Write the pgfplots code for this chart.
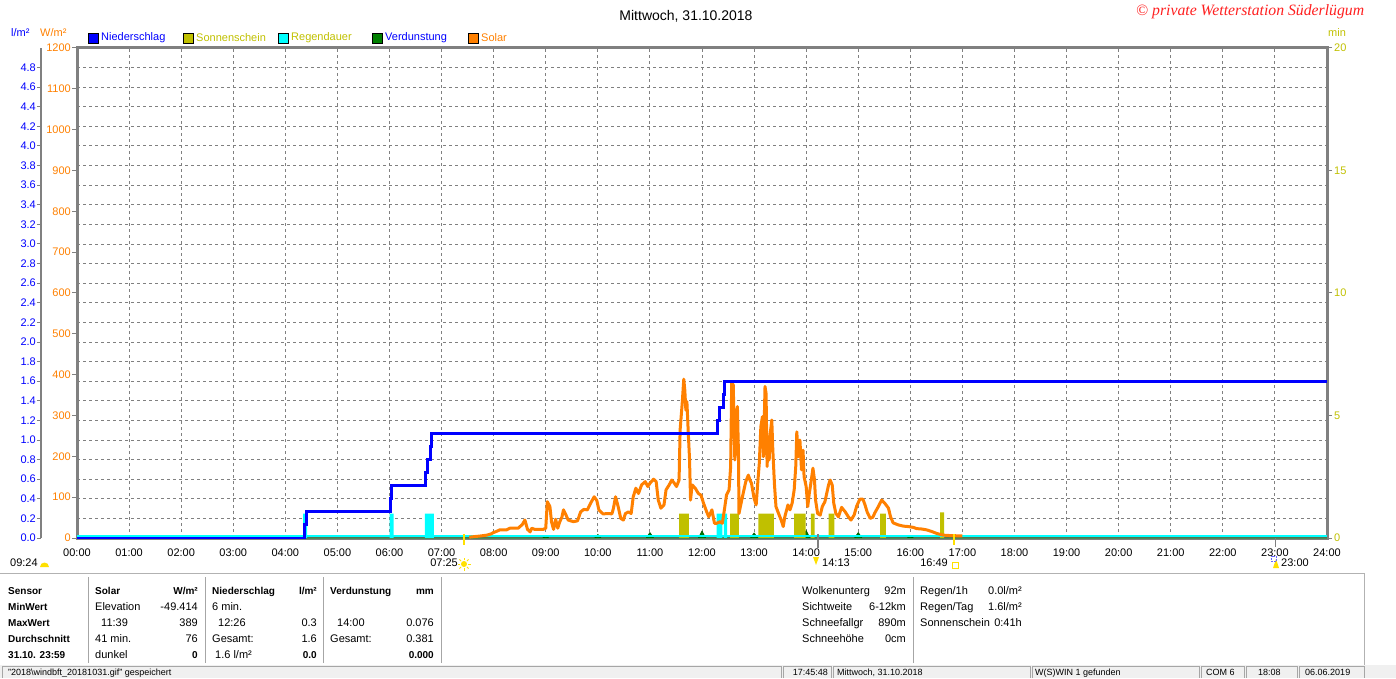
\documentclass[border=0pt]{standalone}
\usepackage{fontspec}
\setmainfont{Liberation Sans}
\newfontfamily\cfont{Liberation Serif}
\usepackage{graphicx}
\usepackage{pgfplots}
\pgfplotsset{compat=1.18}
\definecolor{cBlue}{HTML}{0000FF}
\definecolor{cOrange}{HTML}{FF8000}
\definecolor{cOlive}{HTML}{C0C000}
\definecolor{cCyan}{HTML}{00FFFF}
\definecolor{cGreen}{HTML}{008000}
\definecolor{cGrid}{HTML}{808080}
\definecolor{cFrame}{HTML}{808080}
\definecolor{cRed}{HTML}{FF2020}
\definecolor{cYel}{HTML}{FFE000}
\pgfplotsset{
  /pgf/number format/assume math mode=true,
  /pgf/number format/1000 sep={},
  base/.style={at={(77pt,140pt)}, anchor=south west, width=1250pt, height=490pt,
    scale only axis, xmin=0, xmax=24},
  every tick label/.append style={font=\fontsize{11}{13}\selectfont},
}
\begin{document}
\begin{tikzpicture}[x=1pt,y=1pt,font=\fontsize{11}{13}\selectfont]
\useasboundingbox (0,0) rectangle (1396,678);
% ---------- grid + x labels
\begin{axis}[base, ymin=0, ymax=5,
  xtick={0,1,2,3,4,5,6,7,8,9,10,11,12,13,14,15,16,17,18,19,20,21,22,23,24},
  xticklabels={00:00,01:00,02:00,03:00,04:00,05:00,06:00,07:00,08:00,09:00,10:00,11:00,12:00,13:00,14:00,15:00,16:00,17:00,18:00,19:00,20:00,21:00,22:00,23:00,24:00},
  ytick={0,0.2,0.4,0.6,0.8,1.0,1.2,1.4,1.6,1.8,2.0,2.2,2.4,2.6,2.8,3.0,3.2,3.4,3.6,3.8,4.0,4.2,4.4,4.6,4.8,5.0},
  yticklabels={},
  grid=major, major grid style={cGrid, line width=1pt, dash pattern=on 3pt off 3pt},
  axis line style={draw=none}, tick style={draw=none},
  xticklabel style={yshift=-7pt, black}]
\addplot[draw=none] coordinates {(0,0)};
\end{axis}
% ---------- frame
\draw[cFrame, line width=3pt] (77,140) rectangle (1327,630);
% ---------- Verdunstung (mm)
\begin{axis}[base, ymin=0, ymax=5, hide axis]
\addplot[fill=cGreen, draw=cGreen!70!black, line width=0.8pt] coordinates {
(0,0)(8.94,0)(9,0.020)(9.06,0)(9.94,0)(10,0.035)(10.06,0)(10.93,0)(11,0.055)(11.07,0)
(11.93,0)(12,0.070)(12.07,0)(12.93,0)(13,0.050)(13.07,0)(13.93,0)(14,0.076)(14.07,0)
(14.93,0)(15,0.055)(15.07,0)(15.94,0)(16,0.020)(16.06,0)(24,0)} \closedcycle;
\end{axis}
% ---------- Sonnenschein / Regendauer (min)
\begin{axis}[base, ymin=0, ymax=20, axis x line=none, axis y line*=right,
  y axis line style={draw=none}, ytick={0,5,10,15,20},
  yticklabel style={cOlive, inner sep=2pt},
  tick style={cFrame, line width=1pt}, major tick length=5pt, tick align=outside]
\addplot[fill=cOlive, draw=none] coordinates {
(0,0)(11.56,0)(11.56,1)(11.75,1)(11.75,0)(12.54,0)(12.54,1)(12.71,1)(12.71,0)
(13.08,0)(13.08,1)(13.38,1)(13.38,0)(13.77,0)(13.77,1)(13.99,1)(13.99,0)
(14.09,0)(14.09,1)(14.16,1)(14.16,0)(14.43,0)(14.43,1)(14.54,1)(14.54,0)
(15.42,0)(15.42,1)(15.53,1)(15.53,0)(16.57,0)(16.57,1.05)(16.65,1.05)(16.65,0)(24,0)} \closedcycle;
\addplot[fill=cCyan, draw=none] coordinates {
(0,0)(4.34,0)(4.34,1)(4.42,1)(4.42,0)(6.00,0)(6.00,1)(6.08,1)(6.08,0)
(6.68,0)(6.68,1)(6.85,1)(6.85,0)(12.28,0)(12.28,1)(12.39,1)(12.39,0)
(12.42,0)(12.42,1)(12.48,1)(12.48,0)(24,0)} \closedcycle;
\addplot[cCyan, line width=2pt] coordinates {(0,0.07)(24,0.07)};
\end{axis}
% ---------- Solar (W/m2)
\begin{axis}[base, ymin=0, ymax=1200, axis x line=none, axis y line*=left,
  y axis line style={draw=none}, ytick={0,100,200,300,400,500,600,700,800,900,1000,1100,1200},
  yticklabel style={cOrange, inner sep=1pt},
  tick style={cFrame, line width=1pt}, major tick length=5pt, tick align=outside]
\addplot[cOrange, line width=3pt, line join=round] coordinates {
(7.53,2)(7.60,3)(7.75,5)(7.87,7)(7.95,10)(7.99,13)(8.05,16)(8.12,20)(8.25,20)(8.31,24)
(8.47,24)(8.55,33)(8.60,44)(8.65,21)(8.70,15)(8.73,24)(8.79,21)(8.95,21)(9.00,24)(9.03,89)
(9.08,77)(9.11,40)(9.15,21)(9.19,46)(9.23,24)(9.27,40)(9.31,51)(9.34,69)(9.39,56)(9.43,44)
(9.53,40)(9.61,42)(9.67,64)(9.73,70)(9.80,69)(9.86,85)(9.93,101)(9.98,92)(10.02,69)(10.10,59)
(10.20,60)(10.27,59)(10.30,73)(10.34,101)(10.39,77)(10.44,48)(10.49,44)(10.53,60)(10.59,64)(10.64,60)
(10.68,101)(10.73,122)(10.78,109)(10.84,130)(10.91,138)(10.96,126)(11.00,134)(11.07,144)(11.12,138)(11.16,93)
(11.21,73)(11.27,81)(11.31,118)(11.37,130)(11.42,142)(11.47,134)(11.51,126)(11.56,142)(11.58,265)(11.62,330)
(11.65,389)(11.67,362)(11.69,313)(11.71,334)(11.74,248)(11.76,195)(11.78,93)(11.81,130)(11.87,122)(11.93,109)
(11.98,105)(12.03,85)(12.09,64)(12.13,52)(12.19,69)(12.24,36)(12.28,36)(12.35,40)(12.39,36)(12.43,69)
(12.47,105)(12.52,118)(12.55,175)(12.57,379)(12.60,375)(12.63,191)(12.67,313)(12.68,322)(12.70,207)(12.71,60)
(12.75,85)(12.79,109)(12.84,138)(12.89,154)(12.92,142)(12.95,134)(13.00,97)(13.04,81)(13.07,134)(13.10,183)
(13.13,273)(13.16,297)(13.18,199)(13.21,371)(13.23,354)(13.25,175)(13.27,248)(13.29,191)(13.31,256)(13.34,289)
(13.36,215)(13.39,134)(13.42,77)(13.47,60)(13.52,44)(13.56,28)(13.59,52)(13.65,81)(13.69,69)(13.73,85)
(13.77,118)(13.80,175)(13.82,260)(13.85,199)(13.88,240)(13.91,167)(13.94,215)(13.96,150)(14.00,126)(14.03,77)
(14.06,109)(14.09,134)(14.13,171)(14.16,142)(14.18,93)(14.22,60)(14.27,56)(14.31,77)(14.36,89)(14.43,130)
(14.46,142)(14.50,130)(14.53,85)(14.57,60)(14.62,52)(14.68,75)(14.75,64)(14.81,52)(14.86,44)(14.92,56)
(14.97,78)(15.03,95)(15.09,95)(15.13,81)(15.17,64)(15.23,48)(15.28,51)(15.32,62)(15.39,78)(15.45,93)
(15.51,85)(15.58,73)(15.62,52)(15.67,37)(15.77,32)(15.87,29)(15.96,28)(16.06,26)(16.12,23)(16.22,22)
(16.31,20)(16.41,16)(16.51,11)(16.63,7)(16.76,6)(17.00,5)};
\end{axis}
% ---------- Niederschlag (l/m2)
\begin{axis}[base, ymin=0, ymax=5, hide axis]
\addplot[cBlue, line width=3pt] coordinates {
(0,0)(4.36,0)(4.36,0.133)(4.40,0.133)(4.40,0.267)(6.01,0.267)(6.01,0.40)(6.03,0.40)(6.03,0.533)
(6.70,0.533)(6.70,0.667)(6.73,0.667)(6.73,0.80)(6.78,0.80)(6.78,0.933)(6.81,0.933)(6.81,1.067)
(12.30,1.067)(12.30,1.2)(12.33,1.2)(12.33,1.333)(12.41,1.333)(12.41,1.467)(12.44,1.467)(12.44,1.6)(24,1.6)};
\end{axis}
% ---------- outer blue scale
\begin{axis}[at={(41pt,140pt)}, anchor=south west, width=1250pt, height=490pt, scale only axis,
  xmin=0, xmax=24, ymin=0, ymax=5, axis x line=none, axis y line*=left,
  y axis line style={cFrame, line width=2pt},
  ytick={0,0.2,0.4,0.6,0.8,1.0,1.2,1.4,1.6,1.8,2.0,2.2,2.4,2.6,2.8,3.0,3.2,3.4,3.6,3.8,4.0,4.2,4.4,4.6,4.8},
  yticklabel style={cBlue, inner sep=1pt, /pgf/number format/.cd, fixed, fixed zerofill, precision=1},
  tick style={cFrame, line width=1pt}, major tick length=4pt, tick align=outside]
\addplot[draw=none] coordinates {(0,0)};
\end{axis}
% ---------- titles, units, legend
\node[font=\fontsize{14}{16}\selectfont] at (686,662) {Mittwoch, 31.10.2018};
\node[anchor=west, inner sep=0pt, text=cRed] at (1136,666) {\resizebox{228pt}{!}{\cfont\itshape © private Wetterstation Süderlügum}};
\node[anchor=west, inner sep=0pt, text=cBlue] at (11,645) {l/m²};
\node[anchor=west, inner sep=0pt, text=cOrange] at (40,645) {W/m²};
\node[anchor=west, inner sep=0pt, text=cOlive] at (1328,645) {min};
\foreach \xs/\col/\tcol/\txt in {88/cBlue/cBlue/Niederschlag,183/cOlive/cOlive/Sonnenschein,278/cCyan/cOlive/Regendauer,372/cGreen/cBlue/Verdunstung,468/cOrange/cOrange/Solar}{
  \filldraw[fill=\col, draw=black, line width=0.8pt] (\xs,635) rectangle ++(10,10);
  \node[anchor=west, inner sep=0pt, text=\tcol] at (\xs+13,640) {\txt};
}
% ---------- sun / moon markers
\draw[cYel, line width=2pt] (464,144) -- (464,133);
\draw[cYel, line width=2pt] (954,144) -- (954,133);
\draw[cFrame, line width=2pt] (818,144) -- (818,130);
\draw[cFrame, line width=1.5pt] (1275.7,140) -- (1275.7,131);
\node[anchor=west, inner sep=0pt] at (10,115) {09:24};
\fill[cYel] (40,111) arc (180:0:4.5) -- cycle;
\node[anchor=east, inner sep=0pt] at (458,115) {07:25};
\fill[cYel] (464,114) circle (3);
\foreach \a in {0,45,...,315} \draw[cYel, line width=0.8pt] (464,114) ++(\a:4) -- ++(\a:2.5);
\node[anchor=west, inner sep=0pt] at (822,115) {14:13};
\fill[cYel] (813,121) -- (819,121) -- (816,113) -- cycle;
\node[anchor=east, inner sep=0pt] at (948,115) {16:49};
\draw[cYel, line width=1pt] (952,110) rectangle ++(6,6);
\node[anchor=west, inner sep=0pt] at (1281,115) {23:00};
\fill[cYel] (1273,110) -- (1279,110) -- (1276,119) -- cycle;
\draw[blue!60, densely dotted] (1271,117) rectangle ++(5,5);
% ---------- table
\draw[gray!60, line width=1pt] (0,105) -- (1364,105) -- (1364,13);
\foreach \xs in {88,205,323,441,913} \draw[gray!70, line width=1pt] (\xs,101) -- (\xs,15);
\begin{scope}[every node/.style={inner sep=0pt}]
\node[anchor=base west, font=\bfseries] at (8,84) {Sensor};
\node[anchor=base west, font=\bfseries] at (8,68) {MinWert};
\node[anchor=base west, font=\bfseries] at (8,52) {MaxWert};
\node[anchor=base west, font=\bfseries] at (8,36) {Durchschnitt};
\node[anchor=base west, font=\bfseries] at (8,20) {31.10. 23:59};
\node[anchor=base west, font=\bfseries] at (95,84) {Solar};
\node[anchor=base east, font=\bfseries] at (198,84) {W/m²};
\node[anchor=base west] at (95,68) {Elevation};
\node[anchor=base east] at (198,68) {-49.414};
\node[anchor=base west] at (101,52) {11:39};
\node[anchor=base east] at (198,52) {389};
\node[anchor=base west] at (95,36) {41 min.};
\node[anchor=base east] at (198,36) {76};
\node[anchor=base west] at (95,20) {dunkel};
\node[anchor=base east, font=\bfseries] at (198,20) {0};
\node[anchor=base west, font=\bfseries] at (212,84) {Niederschlag};
\node[anchor=base east, font=\bfseries] at (317,84) {l/m²};
\node[anchor=base west] at (212,68) {6 min.};
\node[anchor=base west] at (218,52) {12:26};
\node[anchor=base east] at (317,52) {0.3};
\node[anchor=base west] at (212,36) {Gesamt:};
\node[anchor=base east] at (317,36) {1.6};
\node[anchor=base west] at (215,20) {1.6 l/m²};
\node[anchor=base east, font=\bfseries] at (317,20) {0.0};
\node[anchor=base west, font=\bfseries] at (330,84) {Verdunstung};
\node[anchor=base east, font=\bfseries] at (434,84) {mm};
\node[anchor=base west] at (337,52) {14:00};
\node[anchor=base east] at (434,52) {0.076};
\node[anchor=base west] at (330,36) {Gesamt:};
\node[anchor=base east] at (434,36) {0.381};
\node[anchor=base east, font=\bfseries] at (434,20) {0.000};
\node[anchor=base west] at (802,84) {Wolkenunterg};
\node[anchor=base east] at (906,84) {92m};
\node[anchor=base west] at (802,68) {Sichtweite};
\node[anchor=base east] at (906,68) {6-12km};
\node[anchor=base west] at (802,52) {Schneefallgr};
\node[anchor=base east] at (906,52) {890m};
\node[anchor=base west] at (802,36) {Schneehöhe};
\node[anchor=base east] at (906,36) {0cm};
\node[anchor=base west] at (920,84) {Regen/1h};
\node[anchor=base east] at (1022,84) {0.0l/m²};
\node[anchor=base west] at (920,68) {Regen/Tag};
\node[anchor=base east] at (1022,68) {1.6l/m²};
\node[anchor=base west] at (920,52) {Sonnenschein};
\node[anchor=base east] at (1022,52) {0:41h};
% ---------- status bar
\fill[gray!12] (0,0) rectangle (1396,13);
\foreach \a/\b in {2/781,783/831,833/1030,1032/1199,1201/1244,1246/1297,1299/1364}
  \draw[gray!70, line width=1pt] (\a,0) -- (\a,12) -- (\b,12) -- (\b,0);
\begin{scope}[every node/.style={inner sep=0pt, font=\fontsize{9}{10}\selectfont}]
\node[anchor=base west] at (8,3) {"2018\textbackslash windbft\_20181031.gif" gespeichert};
\node[anchor=base east] at (828,3) {17:45:48};
\node[anchor=base west] at (837,3) {Mittwoch, 31.10.2018};
\node[anchor=base west] at (1035,3) {W(S)WIN 1 gefunden};
\node[anchor=base west] at (1206,3) {COM 6};
\node[anchor=base west] at (1258,3) {18:08};
\node[anchor=base west] at (1305,3) {06.06.2019};
\end{scope}
\end{scope}
\end{tikzpicture}
\end{document}
